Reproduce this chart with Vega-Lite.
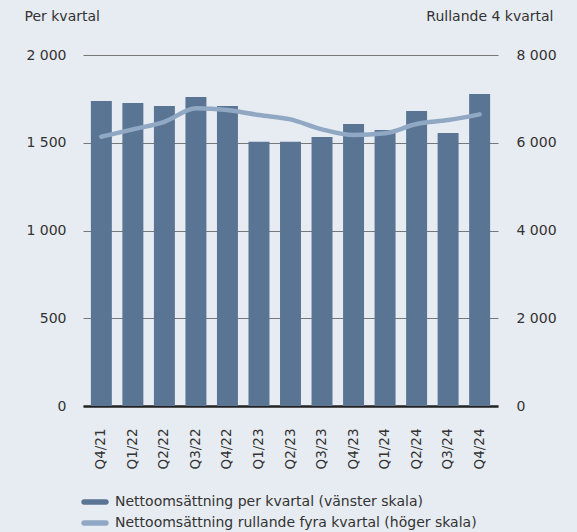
{
  "$schema": "https://vega.github.io/schema/vega-lite/v6.json",
  "autosize": {"type": "none"},
  "width": 415,
  "height": 351,
  "padding": {"left": 83, "top": 55, "right": 79, "bottom": 126},
  "background": "#e7ebf2",
  "config": {
    "view": {"stroke": null},
    "font": "DejaVu Sans",
    "locale": {"number": {"decimal": ",", "thousands": " ", "grouping": [3], "currency": ["", " kr"]}},
    "axis": {"labelFont": "DejaVu Sans", "titleFont": "DejaVu Sans", "labelColor": "#333333", "titleColor": "#333333", "titleFontWeight": "normal"}
  },
  "data": {
    "values": [
      {"q": "Q4/21", "kv": 1738, "r4": 6136},
      {"q": "Q1/22", "kv": 1727, "r4": 6305},
      {"q": "Q2/22", "kv": 1710, "r4": 6478},
      {"q": "Q3/22", "kv": 1761, "r4": 6784},
      {"q": "Q4/22", "kv": 1710, "r4": 6745},
      {"q": "Q1/23", "kv": 1505, "r4": 6631},
      {"q": "Q2/23", "kv": 1505, "r4": 6533},
      {"q": "Q3/23", "kv": 1533, "r4": 6305},
      {"q": "Q4/23", "kv": 1607, "r4": 6175},
      {"q": "Q1/24", "kv": 1573, "r4": 6214},
      {"q": "Q2/24", "kv": 1681, "r4": 6426},
      {"q": "Q3/24", "kv": 1556, "r4": 6517},
      {"q": "Q4/24", "kv": 1778, "r4": 6647}
    ]
  },
  "encoding": {
    "x": {
      "field": "q", "type": "nominal", "sort": null,
      "scale": {"paddingInner": 0.335, "paddingOuter": 0.25},
      "axis": {
        "title": null, "labelAngle": -90, "labelAlign": "right", "labelBaseline": "middle",
        "labelPadding": 22, "ticks": false, "domainColor": "#222222", "domainWidth": 2.5,
        "labelFontSize": 13.5, "grid": false
      }
    }
  },
  "layer": [
    {
      "mark": {"type": "bar", "color": "#5a7594"},
      "encoding": {
        "y": {
          "field": "kv", "type": "quantitative",
          "scale": {"domain": [0, 2000]},
          "axis": {
            "title": "Per kvartal", "titleAngle": 0, "titleAlign": "left", "titleBaseline": "alphabetic",
            "titleX": -59, "titleY": -35, "titleFontSize": 14,
            "values": [0, 500, 1000, 1500, 2000], "format": ",d",
            "domain": false, "ticks": false, "labelPadding": 17, "labelFontSize": 14,
            "grid": true, "gridColor": "#777777", "gridWidth": 1.2
          }
        },
        "color": {
          "datum": "Nettoomsättning per kvartal (vänster skala)",
          "type": "nominal",
          "scale": {
            "domain": ["Nettoomsättning per kvartal (vänster skala)", "Nettoomsättning rullande fyra kvartal (höger skala)"],
            "range": ["#5a7594", "#90a8c3"]
          },
          "legend": {
            "title": null, "orient": "none", "legendX": 1, "legendY": 436,
            "symbolType": "M-1,-0.25 L1,-0.25 A0.25,0.25 0 0 1 1,0.25 L-1,0.25 A0.25,0.25 0 0 1 -1,-0.25 Z",
            "symbolSize": 484, "symbolStrokeWidth": 0, "symbolOpacity": 1,
            "labelFontSize": 14, "labelColor": "#333333", "labelOffset": 9, "rowPadding": 3,
            "labelLimit": 500, "labelFont": "DejaVu Sans"
          }
        }
      }
    },
    {
      "mark": {"type": "line", "strokeWidth": 4.5, "strokeCap": "round", "interpolate": "monotone"},
      "encoding": {
        "y": {
          "field": "r4", "type": "quantitative",
          "scale": {"domain": [0, 8000]},
          "axis": {
            "orient": "right",
            "title": "Rullande 4 kvartal", "titleAngle": 0, "titleAlign": "right", "titleBaseline": "alphabetic",
            "titleX": 55, "titleY": -35, "titleFontSize": 14,
            "values": [0, 2000, 4000, 6000, 8000], "format": ",d",
            "domain": false, "ticks": false, "labelPadding": 18, "labelFontSize": 14, "grid": false
          }
        },
        "color": {
          "datum": "Nettoomsättning rullande fyra kvartal (höger skala)",
          "type": "nominal"
        }
      }
    }
  ],
  "resolve": {"scale": {"y": "independent"}}
}
